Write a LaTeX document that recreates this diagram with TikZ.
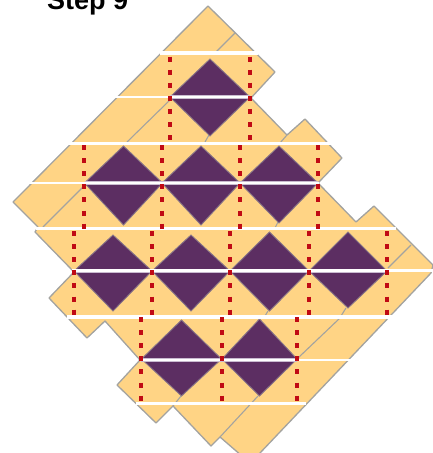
\documentclass[tikz,border=0pt]{standalone}
\usepackage{fontspec}
\setmainfont{Liberation Sans}
\definecolor{quilt}{HTML}{FFD485}
\definecolor{plum}{HTML}{5C2E62}
\definecolor{seam}{HTML}{A3A3A0}
\definecolor{stitch}{HTML}{C00A14}
\definecolor{halo}{HTML}{C9BBD0}
\tikzset{
  quilttop/.style={fill=quilt,draw=seam,line width=1.3pt,line join=round},
  gem/.style={fill=plum,draw=seam!60!plum,line width=0.9pt},
  fold/.style={draw=seam,line width=1.1pt},
  band/.style={draw=white,line width=3.2pt},
  midband/.style={draw=white,line width=2.6pt},
  haloband/.style={draw=halo,line width=4pt},
  stitchline/.style={draw=stitch,line width=3.6pt,dash pattern=on 5pt off 8.1pt}
}
\begin{document}
\begin{tikzpicture}[x=1pt,y=-1pt]
\clip (0,0) rectangle (433,453);
\node[anchor=base west,inner sep=0pt,font=\fontsize{27}{27}\selectfont\bfseries] (title) at (47,9.5) {Step 9};
\draw[quilttop] (208,6) -- (275,72) -- (251,98) -- (287,135) -- (305,119) -- (342,158) -- (318,183)
  -- (356,222) -- (374,206) -- (433,265) -- (431,273) -- (260,453) -- (250,463) -- (220,437) -- (211,446)
  -- (173,406) -- (156,423) -- (117,385) -- (140,360) -- (105,321) -- (87,338) -- (49,298) -- (74,272)
  -- (35,232) -- (38,227) -- (13,202) -- cycle;
% folds
\draw[fold] (235,33) -- (216,52);
\draw[fold] (170,100) -- (127,142);
\draw[fold] (85,185) -- (43,227);
\draw[fold] (287,135) -- (280,143);
\draw[fold] (411,245) -- (388,268);
\draw[fold] (340,318) -- (298,358);
\draw[fold] (258,396) -- (220,437);
\draw[fold] (278,222) -- (275,228);
\draw[fold] (346,308) -- (341,316);
\draw[fold] (268,311) -- (265,316);
\draw[fold] (181,396) -- (173,406);
\draw[fold] (209,135) -- (205,142);
% diamonds
\foreach \cx/\cy/\w/\tp/\bt in {
  210/97/40/59/136,
  123.5/183/39/146/225, 201/183/39/146/225, 279/183/39/146/223,
  113/271/39/235/311, 191/271/39/235/311, 269.5/271/39.5/232/311, 348/271/39/232/308,
  181.5/359/40/320/396, 259.5/359/37.5/319/396}
  \draw[gem] (\cx,\tp) -- (\cx+\w,\cy) -- (\cx,\bt) -- (\cx-\w,\cy) -- cycle;
% halos on the diamonds
\draw[haloband] (170,97) -- (250,97);
\draw[haloband] (85,183) -- (318,183);
\draw[haloband] (74,270.5) -- (387,270.5);
\draw[haloband] (141,360) -- (297,360);
% white horizontal bands
\draw[band] (160,53) -- (258,53);
\draw[band] (68,143.5) -- (331,143.5);
\draw[band] (36,228.5) -- (396,228.5);
\draw[band] (67,317) -- (396,317);
\draw[band] (136,403.5) -- (306,403.5);
\draw[midband] (114,97) -- (248,97);
\draw[midband] (28,183) -- (319,183);
\draw[midband] (72,270.5) -- (433,270.5);
\draw[midband] (139,360) -- (350,360);
% stitches
\foreach \x in {170,250} \draw[stitchline] (\x,56.5) -- (\x,142);
\foreach \x in {84,162,240,318} \draw[stitchline] (\x,145) -- (\x,230);
\foreach \x in {74,152,230,309,387} \draw[stitchline] (\x,231) -- (\x,316);
\foreach \x in {141,222,297} \draw[stitchline] (\x,317) -- (\x,402);
\end{tikzpicture}
\end{document}
